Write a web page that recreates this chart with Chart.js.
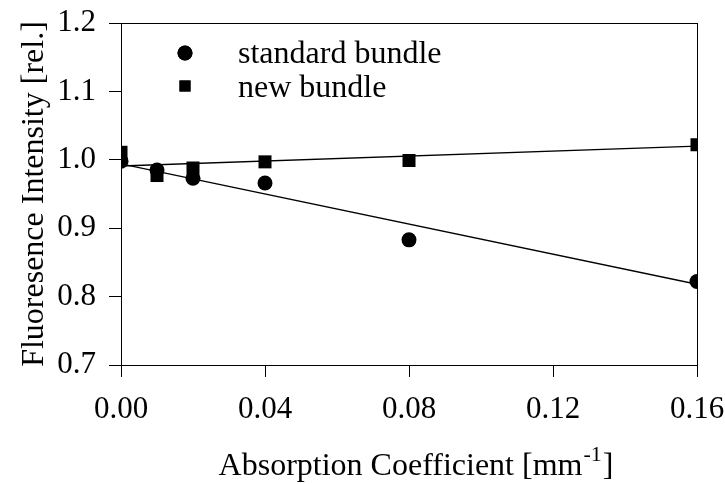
<!DOCTYPE html>
<html>
<head>
<meta charset="utf-8">
<script src="https://cdn.jsdelivr.net/npm/chart.js@4.4.0/dist/chart.umd.min.js"></script>
<style>
  html, body { margin: 0; padding: 0; background: #fff; }
  #wrap { width: 725px; height: 484px; }
</style>
</head>
<body>
<div id="wrap"><canvas id="fluoChart" width="725" height="484"></canvas></div>
<script>
// values
var absorption = [0, 0.01, 0.02, 0.04, 0.08, 0.16];
var standardBundle = [0.998, 0.985, 0.973, 0.966, 0.883, 0.822];
var newBundle = [1.011, 0.977, 0.988, 0.997, 0.999, 1.022];
// regression lines, ends only
var fitX = [0, 0.16];
var standardFit = [0.994, 0.818];
var newFit = [0.991, 1.020];
var xTicks = [0, 0.04, 0.08, 0.12, 0.16];
var yTicks = [0.7, 0.8, 0.9, 1.0, 1.1, 1.2];
var legendLabels = ["standard bundle", "new bundle"];

var SERIF = "'Liberation Serif', 'Times New Roman', serif";

function pts(xs, ys){
    var out = [];
    for(var i = 0; i < xs.length; i++){
        out.push({x: xs[i], y: ys[i]});
    }
    return out;
}

// frame, legend and axis titles
var decor = {
    id: 'decor',
    afterDraw: function(chart){
        var ctx = chart.ctx;
        var a = chart.chartArea;
        ctx.save();
        ctx.strokeStyle = '#000';
        ctx.lineWidth = 1;
        ctx.strokeRect(Math.round(a.left) + 0.5, Math.round(a.top) + 0.5,
                       Math.round(a.right - a.left), Math.round(a.bottom - a.top));

        // legend
        ctx.fillStyle = '#000';
        ctx.font = "32px " + SERIF;
        ctx.textBaseline = 'alphabetic';
        ctx.textAlign = 'left';
        var styles = ['circle', 'rect'];
        var radii = [7.5, 7.8];
        var markY = [53, 86];
        var textY = [63, 97];
        for(var i = 0; i < legendLabels.length; i++){
            Chart.helpers.drawPoint(ctx, {pointStyle: styles[i], radius: radii[i], borderWidth: 0}, 185, markY[i]);
            ctx.fill();
            ctx.fillText(legendLabels[i], 238, textY[i]);
        }

        // y title
        ctx.save();
        ctx.translate(43, (a.top + a.bottom) / 2);
        ctx.rotate(-Math.PI / 2);
        ctx.textAlign = 'center';
        ctx.font = "32px " + SERIF;
        ctx.fillText("Fluoresence Intensity [rel.]", 0, 0);
        ctx.restore();

        // x title with superscript
        var main = "Absorption Coefficient [mm";
        var sup = "-1";
        var end = "]";
        ctx.font = "32px " + SERIF;
        var w1 = ctx.measureText(main).width;
        var w3 = ctx.measureText(end).width;
        ctx.font = "22px " + SERIF;
        var w2 = ctx.measureText(sup).width;
        var cx = (a.left + a.right) / 2 + 6;
        var x0 = cx - (w1 + w2 + w3) / 2;
        var by = 475;
        ctx.font = "32px " + SERIF;
        ctx.fillText(main, x0, by);
        ctx.font = "22px " + SERIF;
        ctx.fillText(sup, x0 + w1 + 1, by - 14);
        ctx.font = "32px " + SERIF;
        ctx.fillText(end, x0 + w1 + w2 + 2, by);
        ctx.restore();
    }
};

var chart = new Chart(document.getElementById("fluoChart"), {
    type: 'scatter',
    data: {
        datasets: [
            {
                label: legendLabels[0],
                data: pts(absorption, standardBundle),
                pointStyle: 'circle',
                pointRadius: 7.5,
                backgroundColor: '#000',
                borderColor: '#000',
                borderWidth: 0
            },
            {
                label: legendLabels[1],
                data: pts(absorption, newBundle),
                pointStyle: 'rect',
                pointRadius: 9.2,
                backgroundColor: '#000',
                borderColor: '#000',
                borderWidth: 0
            },
            {
                type: 'line',
                label: 'standard fit',
                data: pts(fitX, standardFit),
                showLine: true,
                pointRadius: 0,
                borderColor: '#000',
                borderWidth: 1.4,
                fill: false
            },
            {
                type: 'line',
                label: 'new fit',
                data: pts(fitX, newFit),
                showLine: true,
                pointRadius: 0,
                borderColor: '#000',
                borderWidth: 1.4,
                fill: false
            }
        ]
    },
    options: {
        responsive: false,
        animation: false,
        events: [],
        layout: { padding: { top: 23, right: 28, left: 0, bottom: 0 } },
        plugins: {
            legend: { display: false },
            tooltip: { enabled: false }
        },
        scales: {
            x: {
                type: 'linear',
                min: 0,
                max: 0.16,
                afterBuildTicks: function(scale){
                    scale.ticks = xTicks.map(function(v){ return {value: v}; });
                },
                afterFit: function(scale){
                    scale.height = 119;
                    scale.paddingLeft = 0;
                    scale.paddingRight = 0;
                },
                ticks: {
                    color: '#000',
                    font: { family: SERIF, size: 31 },
                    padding: 14,
                    maxRotation: 0,
                    callback: function(v){ return v.toFixed(2); }
                },
                grid: {
                    drawOnChartArea: false,
                    drawTicks: true,
                    tickLength: 12,
                    color: '#000'
                },
                border: { color: '#000', width: 1 }
            },
            y: {
                min: 0.7,
                max: 1.2,
                afterBuildTicks: function(scale){
                    scale.ticks = yTicks.map(function(v){ return {value: v}; });
                },
                afterFit: function(scale){
                    scale.width = 121;
                    scale.paddingTop = 0;
                    scale.paddingBottom = 0;
                },
                ticks: {
                    color: '#000',
                    font: { family: SERIF, size: 31 },
                    padding: 13,
                    callback: function(v){ return v.toFixed(1); }
                },
                grid: {
                    drawOnChartArea: false,
                    drawTicks: true,
                    tickLength: 12,
                    color: '#000'
                },
                border: { color: '#000', width: 1 }
            }
        }
    },
    plugins: [decor]
});
</script>
</body>
</html>
